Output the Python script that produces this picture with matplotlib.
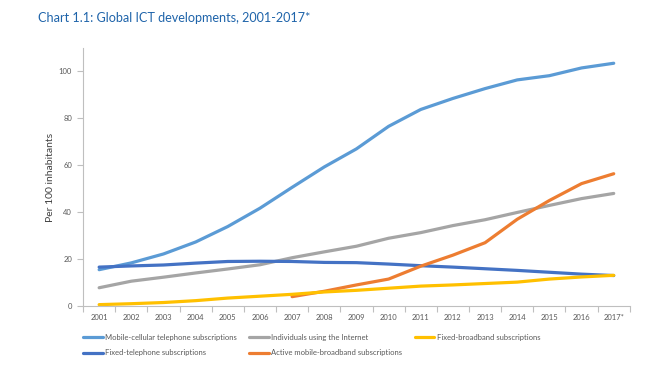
import matplotlib
matplotlib.use("Agg")
import matplotlib.pyplot as plt
import numpy as np

years = ["2001", "2002", "2003", "2004", "2005", "2006", "2007", "2008", "2009",
         "2010", "2011", "2012", "2013", "2014", "2015", "2016", "2017*"]
mobile_cellular = [15.5, 18.4, 22.2, 27.3, 33.9, 41.7, 50.6, 59.3, 67.0, 76.6,
                   83.8, 88.5, 92.7, 96.4, 98.2, 101.5, 103.5]
internet_users = [7.8, 10.6, 12.3, 14.1, 15.8, 17.6, 20.6, 23.1, 25.5, 28.9,
                  31.3, 34.3, 36.8, 39.9, 42.9, 45.8, 48.0]
fixed_broadband = [0.6, 1.0, 1.5, 2.3, 3.4, 4.2, 5.0, 6.0, 6.7, 7.6,
                   8.5, 9.0, 9.6, 10.2, 11.5, 12.4, 13.1]
fixed_telephone = [16.6, 17.1, 17.5, 18.3, 19.0, 19.1, 19.0, 18.6, 18.5, 17.9,
                   17.2, 16.6, 15.9, 15.2, 14.4, 13.6, 13.0]
mbb_years = years[6:]
mobile_broadband = [4.0, 6.3, 9.0, 11.5, 17.0, 21.7, 27.0, 37.0, 45.0, 52.2, 56.4]

FONT = ["Lato", "DejaVu Sans"]
plt.rcParams["font.family"] = FONT

fig = plt.figure(figsize=(6.54, 3.84), dpi=100)
ax = fig.add_axes([0.127, 0.203, 0.836, 0.672])

x = np.arange(len(years))
xm = np.arange(len(years) - len(mbb_years), len(years))
lw = 2.3
l1, = ax.plot(x, mobile_cellular, color="#5B9BD5", lw=lw, solid_capstyle="round",
              label="Mobile-cellular telephone subscriptions")
l2, = ax.plot(x, internet_users, color="#A5A5A5", lw=lw, solid_capstyle="round",
              label="Individuals using the Internet")
l4, = ax.plot(x, fixed_telephone, color="#4472C4", lw=lw, solid_capstyle="round",
              label="Fixed-telephone subscriptions")
l5, = ax.plot(xm, mobile_broadband, color="#ED7D31", lw=lw, solid_capstyle="round",
              label="Active mobile-broadband subscriptions")
l3, = ax.plot(x, fixed_broadband, color="#FFC000", lw=lw, solid_capstyle="round",
              label="Fixed-broadband subscriptions")

ax.set_xlim(-0.5, len(years) - 0.5)
ax.set_ylim(0, 110)
ax.set_yticks([0, 20, 40, 60, 80, 100])
ax.set_xticks(x)
ax.set_xticklabels(years)
ax.set_xticks(np.arange(-0.5, len(years), 1.0), minor=True)
ax.tick_params(axis="x", which="major", length=0, pad=6, labelsize=5.5, labelcolor="#595959")
ax.tick_params(axis="x", which="minor", length=4, color="#BFBFBF", width=0.8)
ax.tick_params(axis="y", length=4, color="#BFBFBF", width=0.8, labelsize=5.5,
               labelcolor="#595959", pad=4)
for s in ["top", "right"]:
    ax.spines[s].set_visible(False)
for s in ["left", "bottom"]:
    ax.spines[s].set_color("#BFBFBF")
    ax.spines[s].set_linewidth(0.8)
ax.set_ylabel("Per 100 inhabitants", fontsize=7.5, color="#404040", labelpad=3)

fig.text(0.058, 0.953, "Chart 1.1: Global ICT developments, 2001-2017*",
         fontsize=9.1, color="#1F64AA", fontweight="normal", va="center", ha="left")

handles = [l1, l4, l2, l5, l3]
fig.legend(handles=handles, labels=[h.get_label() for h in handles], ncol=3,
           loc="upper left", bbox_to_anchor=(0.127, 0.13), frameon=False,
           fontsize=5.5, labelcolor="#595959", handlelength=2.6, handletextpad=0.3,
           columnspacing=1.6, labelspacing=1.1, borderaxespad=0, borderpad=0)

fig.savefig("out.png", dpi=100)
